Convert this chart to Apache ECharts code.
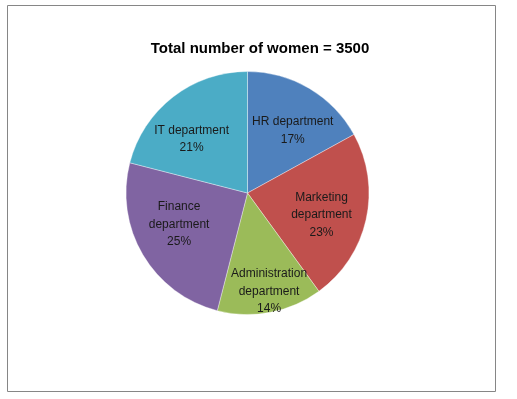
<!DOCTYPE html>
<html>
<head>
<meta charset="utf-8">
<script src="https://cdn.jsdelivr.net/npm/echarts@6/dist/echarts.min.js"></script>
<style>html,body{margin:0;padding:0;background:#fff;}#c{width:517px;height:399px;}</style>
</head>
<body>
<div id="c"></div>
<script>
var categories = ['HR department', 'Marketing department', 'Administration department', 'Finance department', 'IT department'];
var labelLines = ['HR department', 'Marketing\ndepartment', 'Administration\ndepartment', 'Finance\ndepartment', 'IT department'];
var percents = [17, 23, 14, 25, 21];
var colors = ['#4F81BD', '#C0504D', '#9BBB59', '#8064A2', '#4BACC6'];
var titleText = 'Total number of women = 3500';
// label nudges (style only)
var labelNudge = [[3, 9], [-7, 4], [6, 17], [3, -11], [-5, 12]];

var chart = echarts.init(document.getElementById('c'));
var data = categories.map(function (c, i) {
  return { name: c, value: percents[i], itemStyle: { color: colors[i] } };
});
var labelData = categories.map(function (c, i) {
  return { name: c, value: percents[i] };
});
chart.setOption({
  animation: false,
  graphic: [{
    type: 'rect', shape: { x: 7.5, y: 5.5, width: 488, height: 386 },
    style: { fill: 'none', stroke: '#868686', lineWidth: 1 }, silent: true
  }, {
    type: 'text', x: 260, y: 49,
    style: {
      text: titleText, align: 'center', verticalAlign: 'middle',
      font: 'bold 15px "Liberation Sans"', fill: '#000'
    }, silent: true
  }],
  series: [{
    type: 'pie',
    center: [247.5, 193],
    radius: [0, 121.5],
    startAngle: 90,
    clockwise: true,
    label: { show: false },
    labelLine: { show: false },
    itemStyle: { borderColor: 'rgba(255,255,255,0.6)', borderWidth: 0.6 },
    data: data,
    silent: true
  }, {
    type: 'pie',
    center: [247.5, 193],
    radius: [0, 160],
    startAngle: 90,
    clockwise: true,
    itemStyle: { color: 'rgba(0,0,0,0)' },
    label: {
      show: true, position: 'inside',
      fontFamily: 'Liberation Sans', fontSize: 12, color: '#1a1a1a', lineHeight: 17.5,
      formatter: function (p) { return labelLines[p.dataIndex] + '\n' + p.value + '%'; }
    },
    labelLayout: function (p) {
      var n = labelNudge[p.dataIndex];
      return { dx: n[0], dy: n[1] };
    },
    labelLine: { show: false },
    data: labelData,
    silent: true
  }]
});
</script>
</body>
</html>
